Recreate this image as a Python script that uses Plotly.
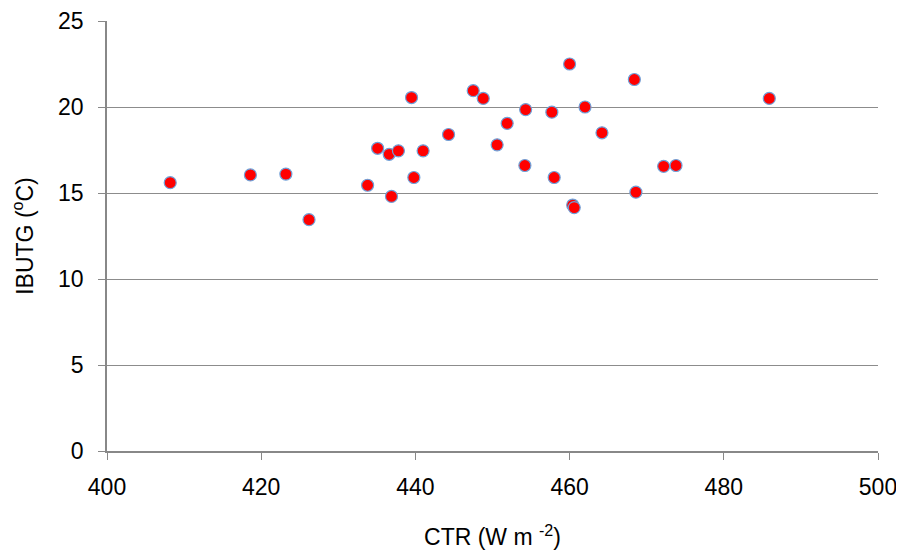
import plotly.graph_objects as go

# CTR (W m-2) vs IBUTG (degC)
ctr = [408.2, 418.6, 423.2, 426.2, 433.8, 435.1, 436.6, 436.9, 437.8, 439.5,
       439.8, 441.0, 444.3, 447.5, 448.8, 450.6, 451.9, 454.3, 454.2, 457.7,
       458.0, 460.0, 460.4, 460.6, 462.0, 464.2, 468.4, 468.6, 472.2, 473.8,
       485.9]
ibutg = [15.6, 16.05, 16.1, 13.45, 15.45, 17.6, 17.25, 14.8, 17.45, 20.55,
         15.9, 17.45, 18.4, 20.95, 20.5, 17.8, 19.05, 19.85, 16.6, 19.7,
         15.9, 22.5, 14.3, 14.15, 20.0, 18.5, 21.6, 15.05, 16.55, 16.6,
         20.5]

x_ticks = [400, 420, 440, 460, 480, 500]
y_ticks = [0, 5, 10, 15, 20, 25]

fig = go.Figure(
    go.Scatter(
        x=ctr,
        y=ibutg,
        mode="markers",
        marker=dict(size=12, color="#ff0000", line=dict(color="#6fa0d8", width=1.2)),
        showlegend=False,
    )
)

axis_font = dict(family="Liberation Sans, Arial, sans-serif", size=23, color="#000000")

# the page body has an 8px margin, so margins are shifted to compensate
fig.update_layout(
    width=904,
    height=550,
    margin=dict(l=99, r=34, t=13, b=107),
    plot_bgcolor="white",
    paper_bgcolor="white",
    font=axis_font,
)
fig.update_xaxes(
    range=[400, 500],
    tickvals=x_ticks,
    automargin=False,
    showgrid=False,
    zeroline=False,
    showline=True,
    linecolor="#888888",
    linewidth=1.5,
    ticks="outside",
    ticklen=7,
    tickcolor="#888888",
    ticklabelstandoff=8,
    tickfont=axis_font,
    title=dict(text="CTR (W m <sup>-2</sup>)", font=axis_font, standoff=30),
)
fig.update_yaxes(
    range=[0, 25],
    tickvals=y_ticks,
    automargin=False,
    showgrid=True,
    gridcolor="#8c8c8c",
    gridwidth=1,
    zeroline=False,
    showline=True,
    linecolor="#888888",
    linewidth=1.5,
    ticks="outside",
    ticklen=7,
    tickcolor="#888888",
    ticklabelstandoff=10,
    tickfont=axis_font,
    title=dict(text="IBUTG (<sup>o</sup>C)", font=axis_font, standoff=18),
)

fig.write_html("out.html")
